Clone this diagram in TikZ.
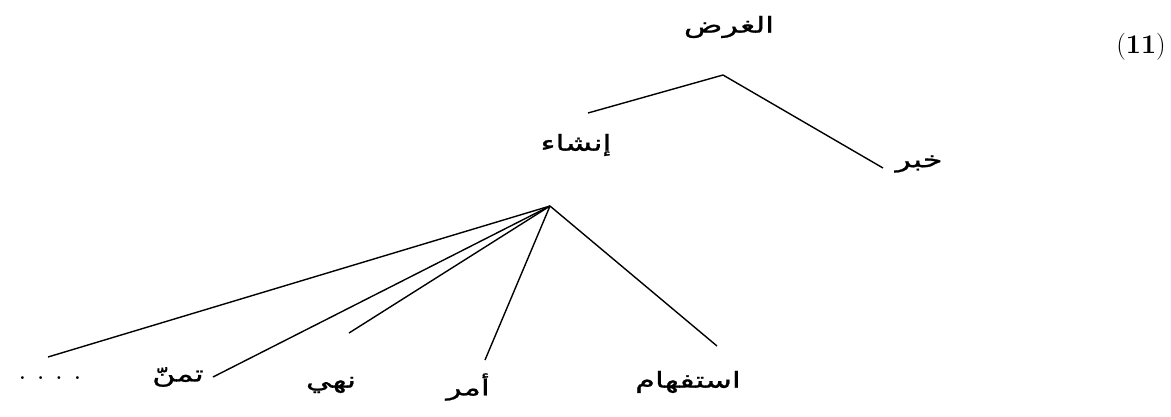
\documentclass[tikz,border=0pt]{standalone}
\usepackage{fontspec}
\newfontfamily\arabicfont[Script=Arabic,FakeStretch=1.45,FakeBold=1]{DejaVu Sans}
\TeXXeTstate=1
\usetikzlibrary{positioning}
\newcommand{\artext}[1]{\beginR #1\endR}
\tikzset{
    term/.style={
        inner sep=0pt,
        font=\arabicfont\fontsize{22}{26}\selectfont
    },
    exnum/.style={
        inner sep=0pt,
        font=\fontsize{27}{30}\selectfont
    },
    branch/.style={
        line width=1.4pt
    }
}

\begin{document}
\begin{tikzpicture}[x=1pt, y=-1pt]

\useasboundingbox (0,0) rectangle (1171,416);

% Example number
\node[exnum] (exno) at (1141,47) {(\textbf{11})};

% Top level
\node[term] (root) at (729,27) {\artext{الغرض}};
\node[term] (insha) at (576,145) {\artext{إنشاء}};
\node[term] (khabar) at (919,164) {\artext{خبر}};

% Kinds of insha
\node[term] (istifham) at (688,382) {\artext{استفهام}};
\node[term] (amr) at (468,387) {\artext{أمر}};
\node[term] (nahy) at (331,385) {\artext{نهي}};
\node[term] (tamanni) at (178,377) {\artext{تمنّ}};
\node[font=\bfseries\fontsize{20}{24}\selectfont, inner sep=0pt] (more) at (50,378) {.\hspace{12pt}.\hspace{12pt}.\hspace{12pt}.};

% Branching points and line ends
\coordinate (rootfork) at (723,75);
\coordinate (inshaend) at (588,113);
\coordinate (khabarend) at (883,168);
\coordinate (inshafork) at (550,206);
\coordinate (istifhamend) at (717,346);
\coordinate (amrend) at (485,360);
\coordinate (nahyend) at (349,333);
\coordinate (tamanniend) at (213,377);
\coordinate (moreend) at (48,357);

% Root branches
\draw[branch] (rootfork) -- (inshaend);
\draw[branch] (rootfork) -- (khabarend);

% Insha branches
\foreach \leaf in {istifhamend,amrend,nahyend,tamanniend,moreend}
    \draw[branch] (inshafork) -- (\leaf);

\end{tikzpicture}
\end{document}
